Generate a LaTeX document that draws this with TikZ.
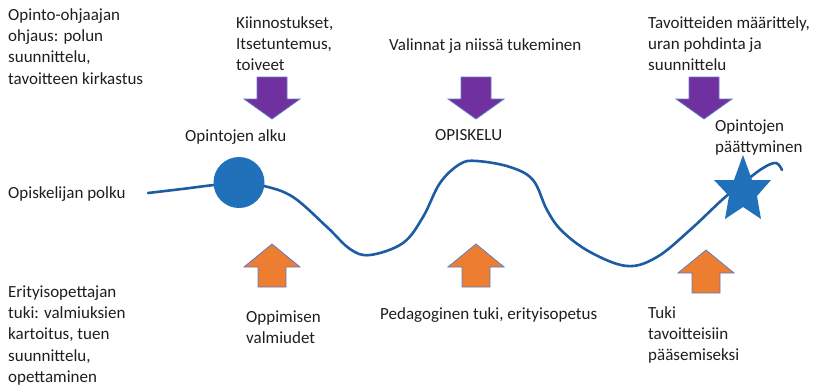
\documentclass[tikz,border=0pt]{standalone}
\usepackage{fontspec}
\setmainfont{Carlito}
\definecolor{pathblue}{RGB}{28,92,162}
\definecolor{fillblue}{RGB}{32,112,186}
\definecolor{purp}{RGB}{112,48,160}
\definecolor{orng}{RGB}{237,125,49}
\definecolor{edgeblue}{RGB}{95,125,195}
\definecolor{txtc}{RGB}{30,30,30}
\begin{document}
\begin{tikzpicture}[x=1pt,y=-1pt,
  txt/.style={anchor=north west, inner sep=0pt, align=left, text=txtc,
    font=\fontsize{17}{21.3}\selectfont},
  downarrow/.style={fill=purp, draw=edgeblue, line width=0.8pt, line join=miter},
  uparrow/.style={fill=orng, draw=edgeblue, line width=0.8pt, line join=miter}]
\path[use as bounding box] (0,0) rectangle (816,386);

% path
\draw[pathblue, line width=2.6pt, line cap=round]
  plot[smooth, tension=0.6] coordinates {
   (148,193) (182,189) (214,185) (239,183) (264,186) (293,197) (327,227)
   (350,249) (370,255) (403,243) (423,217) (440,183) (460,164) (477,161)
   (510,167) (533,180) (547,210) (562,231) (590,252) (627,266) (657,257)
   (690,230) (723,199) (743,183) (763,168) (776,163) (782,170)};

% start circle
\node[circle, fill=fillblue, inner sep=0pt, minimum size=51pt] (start) at (239,182.5) {};

% end star
\fill[fillblue] (743,155) -- (734,180) -- (714,180) -- (729,196) -- (725,219)
  -- (743,207) -- (761,219) -- (757,196) -- (771,180) -- (752,180) -- cycle;

% purple arrows (down)
\foreach \cx in {272,476,704}{
  \draw[downarrow] (\cx-15,77) -- (\cx+15,77) -- (\cx+15,99) -- (\cx+28,99)
    -- (\cx,119) -- (\cx-28,99) -- (\cx-15,99) -- cycle;
}
% orange arrows (up)
\foreach \cx/\ty in {272/244,476/244,706/250}{
  \draw[uparrow] (\cx,\ty) -- (\cx+28,\ty+23) -- (\cx+14,\ty+23) -- (\cx+14,\ty+43)
    -- (\cx-14,\ty+43) -- (\cx-14,\ty+23) -- (\cx-28,\ty+23) -- cycle;
}

% texts
\node[txt] (ohjaus) at (8,5) {\strut Opinto-ohjaajan\\ohjaus: polun\\suunnittelu,\\tavoitteen kirkastus};
\node[txt] (kiin) at (236,13) {\strut Kiinnostukset,\\Itsetuntemus,\\toiveet};
\node[txt] (val) at (389,35) {\strut Valinnat ja niissä tukeminen};
\node[txt] (tav) at (648,13) {\strut Tavoitteiden määrittely,\\uran pohdinta ja\\suunnittelu};
\node[txt] (alku) at (185,126) {\strut Opintojen alku};
\node[txt] (opisk) at (435,125) {\strut OPISKELU};
\node[txt] (paat) at (715,116) {\strut Opintojen\\päättyminen};
\node[txt] (polku) at (8,183) {\strut Opiskelijan polku};
\node[txt] (erit) at (8,282) {\strut Erityisopettajan\\tuki: valmiuksien\\kartoitus, tuen\\suunnittelu,\\opettaminen};
\node[txt] (oppi) at (246,307) {\strut Oppimisen\\valmiudet};
\node[txt] (peda) at (380,304) {\strut Pedagoginen tuki, erityisopetus};
\node[txt] (tuki) at (648,303) {\strut Tuki\\tavoitteisiin\\pääsemiseksi};
\end{tikzpicture}
\end{document}
